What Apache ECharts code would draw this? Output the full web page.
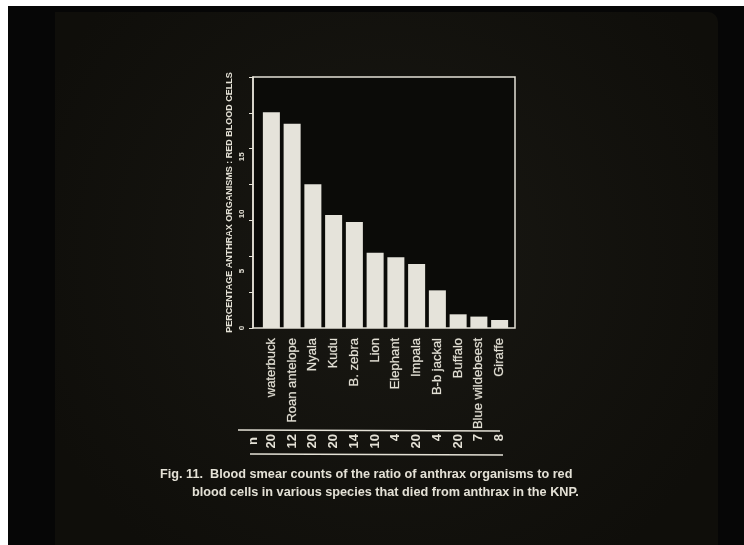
<!DOCTYPE html>
<html>
<head>
<meta charset="utf-8">
<script src="https://cdn.jsdelivr.net/npm/echarts@6/dist/echarts.min.js"></script>
<style>
  html, body { margin: 0; padding: 0; background: #060606; }
  #chart { width: 744px; height: 545px; }
</style>
</head>
<body>
<div id="chart"></div>
<script>
// Species sampled, ratio of anthrax organisms to red blood cells (%), and sample sizes
const species = ['waterbuck', 'Roan antelope', 'Nyala', 'Kudu', 'B. zebra', 'Lion',
  'Elephant', 'Impala', 'B-b jackal', 'Buffalo', 'Blue wildebeest', 'Giraffe'];
const percentages = [18.9, 17.9, 12.6, 9.9, 9.3, 6.6, 6.2, 5.6, 3.3, 1.2, 1.0, 0.7];
const sampleSizes = ['20', '12', '20', '20', '14', '10', '4', '20', '4', '20', '7', '8'];
const yTickLabels = [0, 5, 10, 15];
const captionLines = [
  'Fig. 11.  Blood smear counts of the ratio of anthrax organisms to red',
  'blood cells in various species that died from anthrax in the KNP.'
];

const FONT = '"Liberation Sans", Arial, sans-serif';
const INK = '#e4e1d6';
const Y_MAX = 22;

const chart = echarts.init(document.getElementById('chart'), null, { renderer: 'canvas' });

chart.setOption({
  backgroundColor: '#060606',
  animation: false,
  graphic: [
    // projected slide area
    { type: 'rect', z: -10, shape: { x: 55, y: 12, width: 663, height: 540, r: [0, 10, 0, 0] },
      style: { fill: new echarts.graphic.RadialGradient(0.5, 0.45, 0.7, [
        { offset: 0, color: '#191813' }, { offset: 1, color: '#0f0e0a' }]) } },
    // white margins of the print
    { type: 'rect', z: -5, shape: { x: 0, y: 0, width: 744, height: 6 }, style: { fill: '#ffffff' } },
    { type: 'rect', z: -5, shape: { x: 0, y: 0, width: 8, height: 545 }, style: { fill: '#ffffff' } },
    // sample-size table rules
    { type: 'line', shape: { x1: 238, y1: 430, x2: 500, y2: 431 }, style: { stroke: INK, lineWidth: 1.5 } },
    { type: 'line', shape: { x1: 250, y1: 454, x2: 503, y2: 455 }, style: { stroke: INK, lineWidth: 1.5 } },
    { type: 'text', x: 253, y: 441, rotation: Math.PI / 2,
      style: { text: 'n', font: 'bold 13px ' + FONT, fill: INK, align: 'center', verticalAlign: 'middle' } },
    // caption
    { type: 'text', x: 160, y: 474,
      style: { text: captionLines[0], font: 'bold 12.7px ' + FONT, fill: INK, verticalAlign: 'middle' } },
    { type: 'text', x: 192, y: 492,
      style: { text: captionLines[1], font: 'bold 12.7px ' + FONT, fill: INK, verticalAlign: 'middle' } }
  ],
  grid: [
    // frame of the plot
    { left: 253, top: 77, width: 262, height: 251, show: true,
      backgroundColor: '#0b0b08', borderColor: INK, borderWidth: 1.5 },
    // area holding the bars
    { left: 261, top: 77, width: 249, height: 251 }
  ],
  xAxis: [
    { gridIndex: 0, type: 'value', show: false },
    { gridIndex: 1, type: 'category', data: species,
      axisLine: { show: false }, axisTick: { show: false },
      axisLabel: { rotate: 90, interval: 0, margin: 10, color: INK,
        fontFamily: FONT, fontSize: 13, fontWeight: 500,
        textBorderColor: 'rgba(228,225,214,0.35)', textBorderWidth: 0.6 } },
    { gridIndex: 1, type: 'category', data: species, position: 'bottom', offset: 102,
      axisLine: { show: false }, axisTick: { show: false },
      axisLabel: { rotate: 90, interval: 0, margin: 4, color: INK,
        fontFamily: FONT, fontSize: 13, fontWeight: 'bold',
        formatter: (v, i) => sampleSizes[i] } }
  ],
  yAxis: [
    // tick marks along the left edge
    { gridIndex: 0, type: 'value', min: 0, max: Y_MAX, interval: Y_MAX / 7,
      axisLine: { show: true, lineStyle: { color: INK, width: 1.5 } },
      axisTick: { show: true, inside: false, length: 4, lineStyle: { color: INK, width: 1 } },
      axisLabel: { show: false }, splitLine: { show: false } },
    // value labels and axis title
    { gridIndex: 0, type: 'value', min: 0, max: Y_MAX, interval: 5, position: 'left',
      axisLine: { show: false }, axisTick: { show: false }, splitLine: { show: false },
      axisLabel: { rotate: 90, margin: 7, color: INK, fontFamily: FONT, fontSize: 8, fontWeight: 'bold',
        formatter: v => (yTickLabels.indexOf(v) >= 0 ? String(v) : '') },
      name: 'PERCENTAGE ANTHRAX ORGANISMS : RED BLOOD CELLS',
      nameLocation: 'middle', nameGap: 19, nameRotate: 90,
      nameTextStyle: { color: INK, fontFamily: FONT, fontSize: 9, fontWeight: 'bold' } },
    { gridIndex: 1, type: 'value', min: 0, max: Y_MAX, show: false }
  ],
  series: [{
    type: 'bar',
    xAxisIndex: 1, yAxisIndex: 2,
    data: percentages,
    barCategoryGap: '18%',
    itemStyle: { color: '#e5e3da' },
    silent: true
  }]
});
</script>
</body>
</html>
